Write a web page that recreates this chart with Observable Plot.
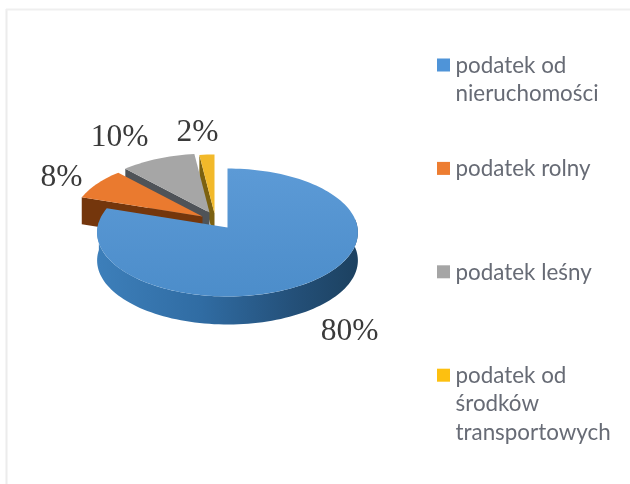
<!DOCTYPE html>
<html lang="pl">
<head>
<meta charset="utf-8">
<script src="https://cdn.jsdelivr.net/npm/d3@7"></script>
<script src="https://cdn.jsdelivr.net/npm/@observablehq/plot@0.6"></script>
<style>
html,body{margin:0;padding:0;background:#fff;overflow:hidden}
svg{display:block;filter:blur(.7px)}
</style>
</head>
<body>
<div id="chart"></div>
<script>
// Chart values
const categories = ["podatek od nieruchomości", "podatek rolny", "podatek leśny", "podatek od środków transportowych"];
const legendLabels = ["podatek od\nnieruchomości", "podatek rolny", "podatek leśny", "podatek od\nśrodków\ntransportowych"];
const shares = [80, 8, 10, 2];
const valueLabels = ["80%", "8%", "10%", "2%"];

// Styles
const topColors = ["url(#blueTop)", "#ea7a2f", "#a6a6a6", "#f2b92a"];
const swatchColors = ["#4f94d8", "#ed7d31", "#a5a5a5", "#fdc010"];
const wallColors = ["url(#blueWall)", "#74360c", "#4f5358", "#7c6110"];

// Layout of the tilted pie (pixels)
const cx = 227, cy = 227, rx = 130, ry = 63.6, persp = 0.078, depth = 27;
const pullX = [0, -25, -18, -13];
const pullY = [0, -11, -15, -14];
const labelX = [349, 61, 119, 197];
const labelY = [329, 175, 135, 130];

const project = (deg, r, i, drop = 0) => {
  const a = deg * Math.PI / 180;
  const u = Math.sin(a) * r, v = -Math.cos(a) * r;
  const s = 1 / (1 - persp * v);
  return {x: cx + pullX[i] + rx * u * s, y: cy + pullY[i] + ry * v * s + drop};
};
const arc = (a0, a1, i, drop = 0) => {
  const n = Math.max(2, Math.ceil(Math.abs(a1 - a0) / 2));
  return d3.range(n + 1).map(k => project(a0 + (a1 - a0) * k / n, 1, i, drop));
};

const total = d3.sum(shares);
let acc = 0;
const spans = shares.map(v => { const a0 = acc / total * 360; acc += v; return [a0, acc / total * 360]; });

const defs = () => {
  const d = d3.create("svg:defs");
  const grad = (id, x2, y2, stops) => {
    const g = d.append("linearGradient").attr("id", id).attr("x1", 0).attr("y1", 0).attr("x2", x2).attr("y2", y2);
    stops.forEach(([o, c]) => g.append("stop").attr("offset", o).attr("stop-color", c));
  };
  grad("blueWall", 1, 0, [[0, "#3d7fba"], [0.4, "#306ca3"], [0.75, "#245079"], [1, "#1c4160"]]);
  grad("blueTop", 0, 1, [[0, "#5c9ad6"], [1, "#4c8dca"]]);
  return d.node();
};

const fillPoly = (pts, fill) => Plot.line(pts, {x: "x", y: "y", fill, stroke: "none", curve: "linear"});

const marks = [
  defs,
  Plot.ruleX([6], {y1: 9, y2: 484, stroke: "#ececec", strokeWidth: 2}),
  Plot.ruleY([9], {x1: 6, x2: 630, stroke: "#efefef", strokeWidth: 2})
];

// exploded slices, back to front: yellow, grey, orange; each with its visible cut face
[3, 2, 1].forEach(i => {
  const [a0, a1] = spans[i];
  const apex = project(0, 0, i);
  const corner = project(a0, 1, i);
  marks.push(fillPoly([corner, apex, {x: apex.x, y: apex.y + depth}, {x: corner.x, y: corner.y + depth}], wallColors[i]));
  marks.push(fillPoly([apex, ...arc(a0, a1, i)], topColors[i]));
});

// main slice: side wall, then top face
const rim = arc(82, 275, 0);
marks.push(fillPoly([...rim, ...rim.slice().reverse().map(p => ({x: p.x, y: p.y + depth + 1}))], wallColors[0]));
marks.push(fillPoly([project(0, 0, 0), ...arc(spans[0][0], spans[0][1], 0)], topColors[0]));

// value labels
marks.push(Plot.text(valueLabels, {
  x: (d, i) => labelX[i], y: (d, i) => labelY[i], text: d => d,
  fontFamily: "Liberation Serif", fontSize: 31.5, fill: "#3a3a3a", textAnchor: "middle"
}));

// legend
const legendY = i => 65 + i * 103.4;
marks.push(Plot.rect(categories, {
  x1: () => 437, x2: () => 450, y1: (d, i) => legendY(i) - 6.5, y2: (d, i) => legendY(i) + 6.5,
  fill: (d, i) => swatchColors[i]
}));
marks.push(Plot.text(legendLabels, {
  x: () => 455, y: (d, i) => legendY(i) - 13, text: d => d, textAnchor: "start", lineAnchor: "top",
  lineHeight: 1.27, fontFamily: "Lato", fontSize: 22.4, fill: "#676b75"
}));

document.getElementById("chart").append(Plot.plot({
  width: 630, height: 484, margin: 0,
  x: {domain: [0, 630], range: [0, 630], axis: null},
  y: {domain: [0, 484], range: [0, 484], axis: null},
  color: {type: "identity"},
  style: {background: "#fff"},
  marks
}));
</script>
</body>
</html>
